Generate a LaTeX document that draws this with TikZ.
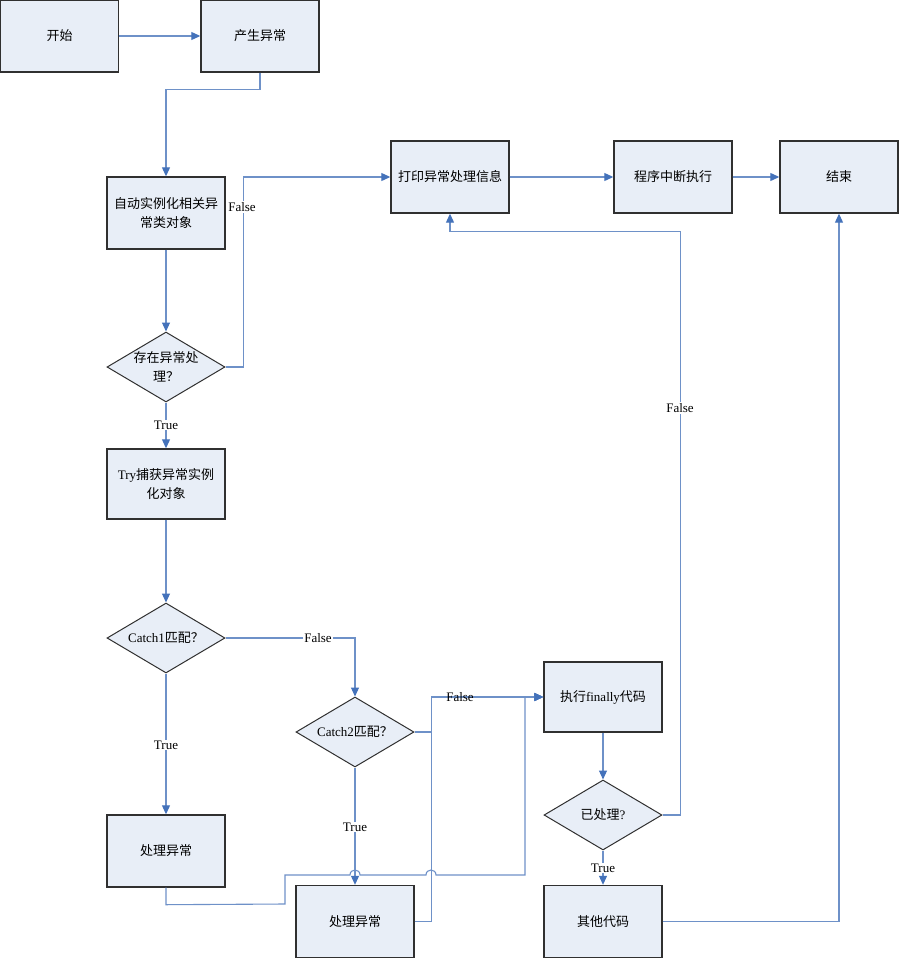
\documentclass[tikz,border=0pt]{standalone}
\usepackage{fontspec}
\setmainfont{Liberation Serif}
\newfontfamily\cjk{Noto Sans CJK SC}
\usetikzlibrary{shapes.geometric,arrows.meta,calc}
\definecolor{boxfill}{RGB}{232,238,247}
\definecolor{boxline}{RGB}{48,48,48}
\definecolor{lineblue}{RGB}{110,145,200}
\definecolor{tipblue}{RGB}{68,114,186}

\begin{document}
\begin{tikzpicture}[x=1pt,y=-1pt,line join=miter,
  box/.style={draw=boxline,fill=boxfill,line width=1.4pt,minimum width=118pt,minimum height=72pt,
    inner sep=0pt,align=center,font=\cjk\fontsize{13}{19}\selectfont},
  cond/.style={diamond,aspect=1.7,draw=boxline,fill=boxfill,line width=1pt,minimum width=118pt,
    minimum height=70pt,inner sep=0pt,align=center,font=\cjk\fontsize{13}{19}\selectfont},
  flow/.style={draw=lineblue,line width=1.1pt,-{Triangle[length=9pt,width=8pt,color=tipblue]}},
  lbl/.style={fill=white,inner sep=1pt,font=\rmfamily\fontsize{13}{15}\selectfont}]
  \useasboundingbox (0,0) rectangle (899,958);
  \def\hop{5}
  % boxes
  \node[box] (start) at (59.5,36) {开始};
  \node[box] (raise) at (260,36) {产生异常};
  \node[box] (inst) at (166,213) {自动实例化相关异\\常类对象};
  \node[box] (print) at (450,177) {打印异常处理信息};
  \node[box] (halt) at (673,177) {程序中断执行};
  \node[box] (end) at (839,177) {结束};
  \node[cond] (exists) at (166,367) {存在异常处\\理？};
  \node[box,minimum height=70pt] (try) at (166,484) {{\rmfamily Try}捕获异常实例\\化对象};
  \node[cond] (catch1) at (166,638) {{\rmfamily Catch1}匹配？};
  \node[box] (handle1) at (166,851) {处理异常};
  \node[cond] (catch2) at (355,732) {{\rmfamily Catch2}匹配？};
  \node[box] (handle2) at (355,921.5) {处理异常};
  \node[box,minimum height=70pt] (fin) at (603,697) {执行{\rmfamily finally}代码};
  \node[cond] (done) at (603,815) {已处理{\rmfamily ?}};
  \node[box] (other) at (603,921.5) {其他代码};
  % connectors
  \draw[flow] (start) -- (raise);
  \draw[flow] (raise.south) -- ++(0,17) -| (inst.north);
  \draw[flow] (inst) -- (exists);
  \draw[flow] (exists.east) -- ++(18,0) |- (print.west);
  \draw[flow] (print) -- (halt);
  \draw[flow] (halt) -- (end);
  \draw[flow] (exists) -- (try);
  \draw[flow] (try) -- (catch1);
  \draw[flow] (catch1.east) -| (catch2.north);
  \draw[flow] (catch1) -- (handle1);
  \draw[flow] (catch2) -- (handle2);
  \draw[flow] (catch2.east) -- ++(17,0) |- (fin.west);
  \draw[flow] (handle2.east) -- ++(17,0) |- (fin.west);
  \draw[flow] (handle1.south) -- ++(0,17) -- (285,904) -- (285,875)
    -- ({355-\hop},875) .. controls ({355-\hop},{875-1.33*\hop}) and ({355+\hop},{875-1.33*\hop}) .. ({355+\hop},875)
    -- ({431-\hop},875) .. controls ({431-\hop},{875-1.33*\hop}) and ({431+\hop},{875-1.33*\hop}) .. ({431+\hop},875)
    -- (525,875) |- (fin.west);
  \draw[flow] (fin) -- (done);
  \draw[flow] (done) -- (other);
  \draw[flow] (done.east) -- ++(18,0) |- ($(print.south)+(0,18)$) -- (print.south);
  \draw[flow] (other.east) -| (end.south);
  % labels
  \node[lbl] (f1) at (242,207) {False};
  \node[lbl] (t1) at (166,425) {True};
  \node[lbl] (f2) at (318,638) {False};
  \node[lbl] (t2) at (166,745) {True};
  \node[lbl,fill=none] (f3) at (460,697) {False};
  \node[lbl] (t3) at (355,827) {True};
  \node[lbl] (f4) at (680,408) {False};
  \node[lbl] (t4) at (603,868) {True};
\end{tikzpicture}
\end{document}
